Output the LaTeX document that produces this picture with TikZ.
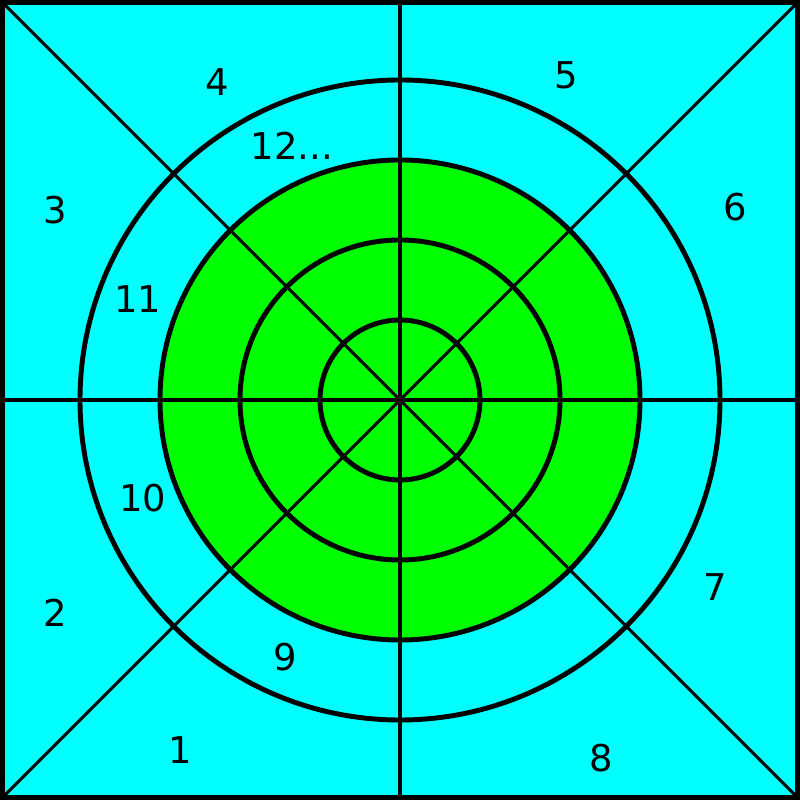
\documentclass[tikz,border=0pt]{standalone}
\usepackage{fontspec}
\setmainfont{DejaVu Sans}
\usetikzlibrary{calc}
\definecolor{aquafill}{RGB}{0,255,255}
\definecolor{limefill}{RGB}{0,255,0}

\begin{document}
\begin{tikzpicture}[
    ring/.style={line width=1.4pt},
    spoke/.style={line width=1.15pt},
    diag/.style={line width=0.85pt},
    num/.style={font=\fontsize{10.5}{12}\selectfont, inner sep=0pt}
  ]
            \useasboundingbox (0, 0) rectangle (8, 8);
            % Define points
            \coordinate (O) at (4, 4);
            \coordinate (SW) at (0, 0);
            \coordinate (NE) at (8, 8);
            \coordinate (NW) at (0, 8);
            \coordinate (SE) at (8, 0);
            % Draw the background
            \fill[aquafill] (SW) rectangle (NE);
            \fill[limefill] (O) circle (2.4);
            % Draw the spokes
            \draw[diag] (SW) -- (NE);
            \draw[diag] (NW) -- (SE);
            \draw[spoke] (0, 4) -- (8, 4);
            \draw[spoke] (4, 0) -- (4, 8);
            % Draw the rings
            \foreach \r in {0.8, 1.6, 2.4, 3.2}
              \draw[ring] (O) circle (\r);
            \draw[line width=2.85pt] (SW) rectangle (NE);
            % Label the sectors
            \node[num] (n1) at (1.80, 0.50) {1};
            \node[num] (n2) at (0.55, 1.87) {2};
            \node[num] (n3) at (0.55, 5.90) {3};
            \node[num] (n4) at (2.17, 7.18) {4};
            \node[num] (n5) at (5.66, 7.25) {5};
            \node[num] (n6) at (7.35, 5.93) {6};
            \node[num] (n7) at (7.15, 2.13) {7};
            \node[num] (n8) at (6.01, 0.42) {8};
            \node[num] (n9) at (2.85, 1.43) {9};
            \node[num] (n10) at (1.43, 3.02) {10};
            \node[num] (n11) at (1.38, 5.01) {11};
            \node[num] (n12) at (2.92, 6.54) {12...};
\end{tikzpicture}
\end{document}
